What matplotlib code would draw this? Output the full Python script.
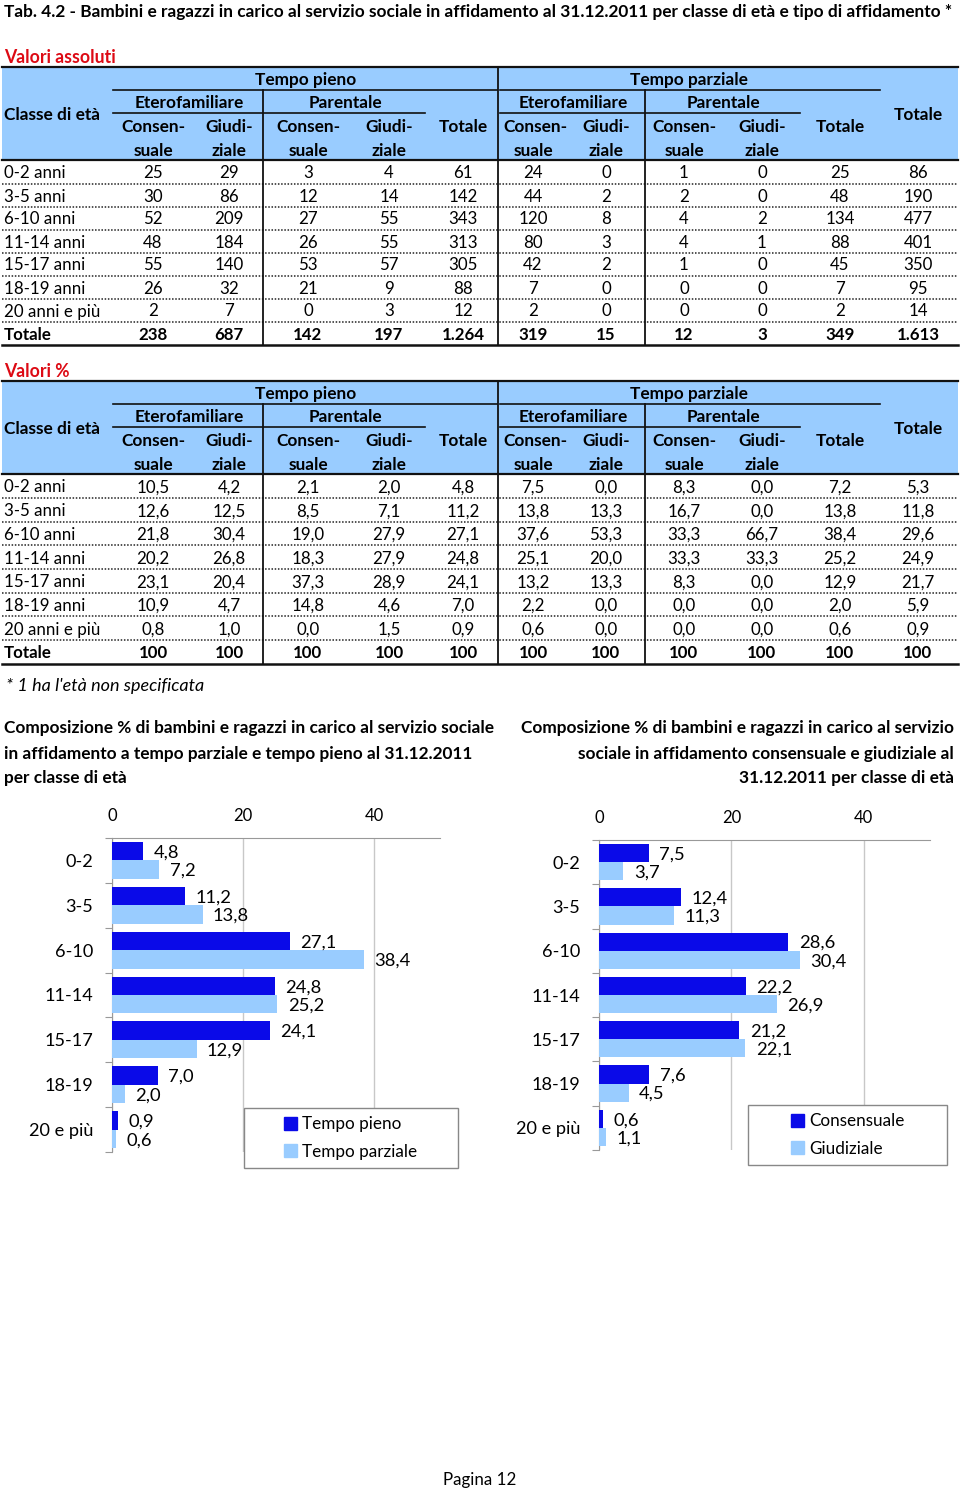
import matplotlib
matplotlib.use("Agg")
import matplotlib.pyplot as plt
import numpy as np
from matplotlib.patches import Rectangle, Patch

plt.rcParams["font.family"] = ["Lato", "DejaVu Sans"]

# ---- table data ----
age_rows = ["0-2 anni", "3-5 anni", "6-10 anni", "11-14 anni", "15-17 anni",
            "18-19 anni", "20 anni e più", "Totale"]

abs_0_2 = [25, 29, 3, 4, 61, 24, 0, 1, 0, 25, 86]
abs_3_5 = [30, 86, 12, 14, 142, 44, 2, 2, 0, 48, 190]
abs_6_10 = [52, 209, 27, 55, 343, 120, 8, 4, 2, 134, 477]
abs_11_14 = [48, 184, 26, 55, 313, 80, 3, 4, 1, 88, 401]
abs_15_17 = [55, 140, 53, 57, 305, 42, 2, 1, 0, 45, 350]
abs_18_19 = [26, 32, 21, 9, 88, 7, 0, 0, 0, 7, 95]
abs_20_piu = [2, 7, 0, 3, 12, 2, 0, 0, 0, 2, 14]
abs_tot = [238, 687, 142, 197, 1264, 319, 15, 12, 3, 349, 1613]

pct_0_2 = [10.5, 4.2, 2.1, 2.0, 4.8, 7.5, 0.0, 8.3, 0.0, 7.2, 5.3]
pct_3_5 = [12.6, 12.5, 8.5, 7.1, 11.2, 13.8, 13.3, 16.7, 0.0, 13.8, 11.8]
pct_6_10 = [21.8, 30.4, 19.0, 27.9, 27.1, 37.6, 53.3, 33.3, 66.7, 38.4, 29.6]
pct_11_14 = [20.2, 26.8, 18.3, 27.9, 24.8, 25.1, 20.0, 33.3, 33.3, 25.2, 24.9]
pct_15_17 = [23.1, 20.4, 37.3, 28.9, 24.1, 13.2, 13.3, 8.3, 0.0, 12.9, 21.7]
pct_18_19 = [10.9, 4.7, 14.8, 4.6, 7.0, 2.2, 0.0, 0.0, 0.0, 2.0, 5.9]
pct_20_piu = [0.8, 1.0, 0.0, 1.5, 0.9, 0.6, 0.0, 0.0, 0.0, 0.6, 0.9]
pct_tot = [100] * 11

# ---- chart data ----
chart_cats = ["0-2", "3-5", "6-10", "11-14", "15-17", "18-19", "20 e più"]
tempo_pieno = [4.8, 11.2, 27.1, 24.8, 24.1, 7.0, 0.9]
tempo_parziale = [7.2, 13.8, 38.4, 25.2, 12.9, 2.0, 0.6]
consensuale = [7.5, 12.4, 28.6, 22.2, 21.2, 7.6, 0.6]
giudiziale = [3.7, 11.3, 30.4, 26.9, 22.1, 4.5, 1.1]

DARK = "#0A0AE8"
LIGHT = "#99CCFF"
HEAD = "#99CCFF"
RED = "#DD0A14"
W, H = 960, 1491
BODY = 12.2
HDR = 12.4
DY = 1.5  # small downward nudge for text baselines


def fmt_int(v):
    return f"{v:,}".replace(",", ".")


def fmt_dec(v):
    if isinstance(v, int):
        return str(v)
    return f"{v:.1f}".replace(".", ",")


fig = plt.figure(figsize=(W / 100, H / 100), dpi=100)
ax0 = fig.add_axes([0, 0, 1, 1])
ax0.set_xlim(0, W)
ax0.set_ylim(H, 0)
ax0.axis("off")

ax0.text(4, 11 + DY, "Tab. 4.2 - Bambini e ragazzi in carico al servizio sociale in affidamento al "
         "31.12.2011 per classe di età e tipo di affidamento *",
         fontsize=12.4, fontweight="bold", va="center", ha="left")

col_x = [153, 229, 308, 389, 463, 533, 606, 684, 762, 840, 918]


def draw_table(y0, title, rows, step, fmt):
    ax0.text(4, y0 - 11 + DY, title, color=RED, fontsize=12.7, fontweight="bold", va="center")
    hb = y0 + 93
    ax0.add_patch(Rectangle((2, y0), 956, hb - y0, color=HEAD, lw=0))
    ax0.plot([2, 958], [y0, y0], color="#111", lw=1.6)
    ax0.plot([2, 958], [hb, hb], color="#111", lw=1.6)
    # header sub-lines
    ax0.plot([113, 497], [y0 + 23, y0 + 23], color="#111", lw=1.2)
    ax0.plot([500, 880], [y0 + 23, y0 + 23], color="#111", lw=1.2)
    ax0.plot([113, 425], [y0 + 46, y0 + 46], color="#111", lw=1.2)
    ax0.plot([500, 800], [y0 + 46, y0 + 46], color="#111", lw=1.2)
    kw = dict(fontsize=HDR, fontweight="bold", va="center", ha="center")
    ax0.text(306, y0 + 11 + DY, "Tempo pieno", **kw)
    ax0.text(689, y0 + 11 + DY, "Tempo parziale", **kw)
    for cx in (189, 573):
        ax0.text(cx, y0 + 34 + DY, "Eterofamiliare", **kw)
    for cx in (345, 723):
        ax0.text(cx, y0 + 34 + DY, "Parentale", **kw)
    for i in (0, 2, 5, 7):
        ax0.text(col_x[i] + (2 if i == 5 else 0), y0 + 58 + DY, "Consen-", **kw)
        ax0.text(col_x[i], y0 + 82 + DY, "suale", **kw)
    for i in (1, 3, 6, 8):
        ax0.text(col_x[i], y0 + 58 + DY, "Giudi-", **kw)
        ax0.text(col_x[i], y0 + 82 + DY, "ziale", **kw)
    ax0.text(col_x[4], y0 + 58 + DY, "Totale", **kw)
    ax0.text(col_x[9], y0 + 58 + DY, "Totale", **kw)
    ax0.text(col_x[10], y0 + 46 + DY, "Totale", **kw)
    ax0.text(4, y0 + 46 + DY, "Classe di età", fontsize=HDR, fontweight="bold", va="center")

    first = hb + 12
    for r, (label, vals) in enumerate(zip(age_rows, rows)):
        yc = first + r * step
        bold = "bold" if r == len(rows) - 1 else "normal"
        ax0.text(4, yc + DY, label, fontsize=BODY, fontweight=bold, va="center")
        for cx, v in zip(col_x, vals):
            ax0.text(cx, yc + DY, fmt(v), fontsize=BODY, fontweight=bold,
                     va="center", ha="center")
        if r < len(rows) - 1:
            ax0.plot([2, 958], [yc + step / 2, yc + step / 2], color="#222", lw=1.1,
                     ls=(0, (1, 1.1)))
    bottom = first + (len(rows) - 0.5) * step
    ax0.plot([2, 958], [bottom, bottom], color="#111", lw=1.8)
    ax0.plot([263, 263], [y0 + 23, bottom], color="#111", lw=1.3)
    ax0.plot([498, 498], [y0, bottom], color="#111", lw=1.3)
    ax0.plot([645, 645], [y0 + 23, bottom], color="#111", lw=1.3)


draw_table(67, "Valori assoluti",
           [abs_0_2, abs_3_5, abs_6_10, abs_11_14, abs_15_17, abs_18_19, abs_20_piu, abs_tot],
           23, fmt_int)
draw_table(381, "Valori %",
           [pct_0_2, pct_3_5, pct_6_10, pct_11_14, pct_15_17, pct_18_19, pct_20_piu, pct_tot],
           23.7, fmt_dec)

ax0.text(6, 685 + DY, "* 1 ha l'età non specificata", fontsize=13, style="italic", va="center")

left_title = ["Composizione % di bambini e ragazzi in carico al servizio sociale",
              "in affidamento a tempo parziale e tempo pieno al 31.12.2011",
              "per classe di età"]
right_title = ["Composizione % di bambini e ragazzi in carico al servizio",
               "sociale in affidamento consensuale e giudiziale al",
               "31.12.2011 per classe di età"]
for i, (lt, rt) in enumerate(zip(left_title, right_title)):
    ax0.text(4, 727 + 25 * i + DY, lt, fontsize=12.4, fontweight="bold", va="center", ha="left")
    ax0.text(954, 727 + 25 * i + DY, rt, fontsize=12.4, fontweight="bold", va="center",
             ha="right")

ax0.text(480, 1478 + DY, "Pagina 12", fontsize=12.2, va="center", ha="center")


def px_rect(x0, x1, y0, y1):
    return [x0 / W, 1 - y1 / H, (x1 - x0) / W, (y1 - y0) / H]


def bar_chart(x0, x1, y0, y1, s1, s2, names, box):
    ax = fig.add_axes(px_rect(x0, x1, y0, y1))
    n = len(chart_cats)
    yc = np.arange(n) + 0.5
    h = 0.41
    ax.barh(yc - h / 2, s1, height=h, color=DARK, zorder=3)
    ax.barh(yc + h / 2, s2, height=h, color=LIGHT, zorder=3)
    for ys, vals in ((yc - h / 2, s1), (yc + h / 2, s2)):
        for yy, v in zip(ys, vals):
            ax.annotate(fmt_dec(v), (v, yy), xytext=(7.5, -1), textcoords="offset points",
                        va="center", ha="left", fontsize=13.2)
    ax.set_xlim(0, 50)
    ax.set_ylim(n, 0)
    ax.xaxis.tick_top()
    ax.set_xticks([0, 20, 40])
    ax.tick_params(axis="x", length=0, pad=10, labelsize=12)
    ax.set_yticks(np.arange(n + 1))
    ax.set_yticklabels([])
    ax.set_yticks(yc, minor=True)
    ax.set_yticklabels(chart_cats, minor=True, fontsize=13.1)
    ax.tick_params(axis="y", which="major", length=5, color="#999999")
    ax.tick_params(axis="y", which="minor", length=0, pad=13.5)
    ax.grid(axis="x", color="#C8C8C8", lw=1)
    ax.set_axisbelow(True)
    for s in ("right", "bottom"):
        ax.spines[s].set_visible(False)
    for s in ("top", "left"):
        ax.spines[s].set_color("#999999")
    bx0, bx1, by0, by1 = box
    fig.add_artist(Rectangle((bx0 / W, 1 - by1 / H), (bx1 - bx0) / W, (by1 - by0) / H,
                             transform=fig.transFigure, facecolor="white",
                             edgecolor="#888888", lw=1, zorder=5))
    handles = [Patch(color=DARK), Patch(color=LIGHT)]
    fig.legend(handles, names, loc="center",
               bbox_to_anchor=((bx0 + bx1) / 2 / W, 1 - (by0 + by1) / 2 / H),
               frameon=False, fontsize=12.3, handlelength=0.75, handleheight=0.75,
               handletextpad=0.3, labelspacing=0.65).set_zorder(6)


bar_chart(112, 440, 838, 1152, tempo_pieno, tempo_parziale,
          ["Tempo pieno", "Tempo parziale"], (244, 458, 1108, 1168))
bar_chart(599, 930, 840, 1150, consensuale, giudiziale,
          ["Consensuale", "Giudiziale"], (748, 947, 1105, 1165))

fig.savefig("out.png", dpi=100)
